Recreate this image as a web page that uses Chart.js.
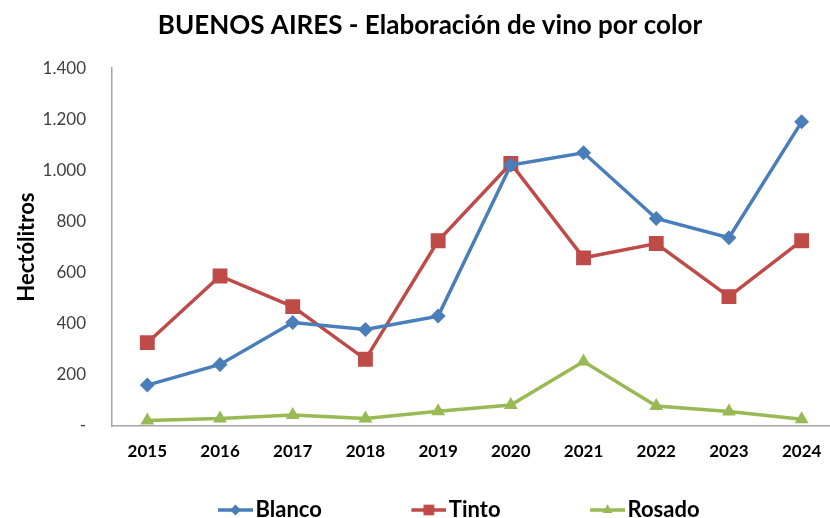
<!DOCTYPE html>
<html><head><meta charset="utf-8">
<script src="https://cdn.jsdelivr.net/npm/chart.js@4/dist/chart.umd.min.js"></script>
<style>html,body{margin:0;padding:0;background:#fff}#wrap{width:830px;height:518px}</style>
</head><body><div id="wrap"><canvas id="c" width="830" height="518"></canvas></div>
<script>
const years = [2015,2016,2017,2018,2019,2020,2021,2022,2023,2024];
const blanco = [160,241,405,378,430,1021,1069,812,737,1190];
const tinto  = [326,587,467,261,725,1027,658,714,506,725];
const rosado = [22,29,43,29,58,82,252,78,57,26];
const yTicks = [0,200,400,600,800,1000,1200,1400];
const seriesNames = ['Blanco','Tinto','Rosado'];
const colors = ['#4A7EBB','#BE4B48','#98B954'];
const styles = ['rectRot','rect','triangle'];
const radii = [7.5,10.5,8];

const LEG_FONT = 22;
const ICON_W = 106;                      // legend box width reserved
const ICON_C = ICON_W + LEG_FONT - 5;    // canvas width (drawn centred in the box)
function legendIcon(i){
  const cv = document.createElement('canvas');
  cv.width = ICON_C; cv.height = 18;
  const ctx = cv.getContext('2d');
  const x1 = ICON_C, x0 = ICON_C - 35, cx = (x0 + x1) / 2;
  ctx.strokeStyle = colors[i]; ctx.lineWidth = 3.5;
  ctx.beginPath(); ctx.moveTo(x0,9); ctx.lineTo(x1,9); ctx.stroke();
  ctx.fillStyle = colors[i];
  Chart.helpers.drawPoint(ctx,{pointStyle:styles[i],radius:radii[i]*0.72,borderWidth:0},cx,9);
  return cv;
}

const fmt = v => v === 0 ? '-' : v.toLocaleString('de-DE');
const mk = (arr) => arr.map((v,i)=>({x:years[i], y:v}));
const data = [blanco,tinto,rosado];

const titleShift = {
  id: 'titleShift',
  afterLayout(chart) {
    const t = chart.titleBlock;
    if (t) { t.left += 11; t.right += 11; }
  }
};

new Chart(document.getElementById('c'), {
  type: 'line',
  plugins: [titleShift],
  data: {
    datasets: data.map((arr,i)=>({
      label: seriesNames[i],
      data: mk(arr),
      borderColor: colors[i],
      backgroundColor: colors[i],
      borderWidth: 3.5,
      tension: 0,
      pointStyle: styles[i],
      pointRadius: radii[i],
      pointHoverRadius: radii[i],
      pointBorderWidth: 0,
      pointBackgroundColor: colors[i]
    }))
  },
  options: {
    responsive: false,
    animation: false,
    layout: { autoPadding: false, padding: { left: 8, right: 0, top: 4, bottom: -13 } },
    plugins: {
      tooltip: { enabled: false },
      title: {
        display: true,
        text: 'BUENOS AIRES - Elaboración de vino por color',
        color: '#000',
        font: { family: 'Lato', size: 26, weight: 'bold' },
        padding: { top: 6, bottom: 27 }
      },
      legend: {
        position: 'bottom',
        labels: {
          usePointStyle: true,
          pointStyleWidth: ICON_W,
          padding: 10,
          color: '#000',
          font: { family: 'Lato', size: LEG_FONT, weight: 'bold' },
          generateLabels: (chart) => seriesNames.map((n,i)=>({
            text: n, pointStyle: legendIcon(i), fillStyle: colors[i], strokeStyle: colors[i],
            lineWidth: 0, hidden: false, datasetIndex: i, fontColor: '#000'
          }))
        }
      }
    },
    scales: {
      x: {
        type: 'linear',
        min: 2014.514,
        max: 2024.39,
        grid: { display: false, drawTicks: false },
        border: { display: true, color: '#A6A6A6', width: 1.5 },
        afterBuildTicks: (s) => { s.ticks = years.map(v=>({value:v})); },
        afterFit: (s) => { s.height = 63; s.paddingLeft = 0; s.paddingRight = 0; },
        ticks: {
          autoSkip: false, maxRotation: 0,
          padding: 15,
          color: '#000',
          font: { family: 'Lato', size: 17, weight: 'bold' },
          callback: (v) => String(v)
        }
      },
      y: {
        min: 0, max: 1400,
        grid: { display: false, drawTicks: false },
        border: { display: true, color: '#A6A6A6', width: 1.5 },
        afterBuildTicks: (s) => { s.ticks = yTicks.map(v=>({value:v})); },
        afterFit: (s) => { s.width = 104; },
        ticks: {
          padding: 26,
          color: '#404040',
          font: { family: 'Lato', size: 17 },
          callback: (v) => fmt(v)
        },
        title: {
          display: true,
          text: 'Hectólitros',
          color: '#000',
          font: { family: 'Lato', size: 22, weight: 'bold' },
          padding: { top: 6, bottom: 5 }
        }
      }
    }
  }
});
</script></body></html>
